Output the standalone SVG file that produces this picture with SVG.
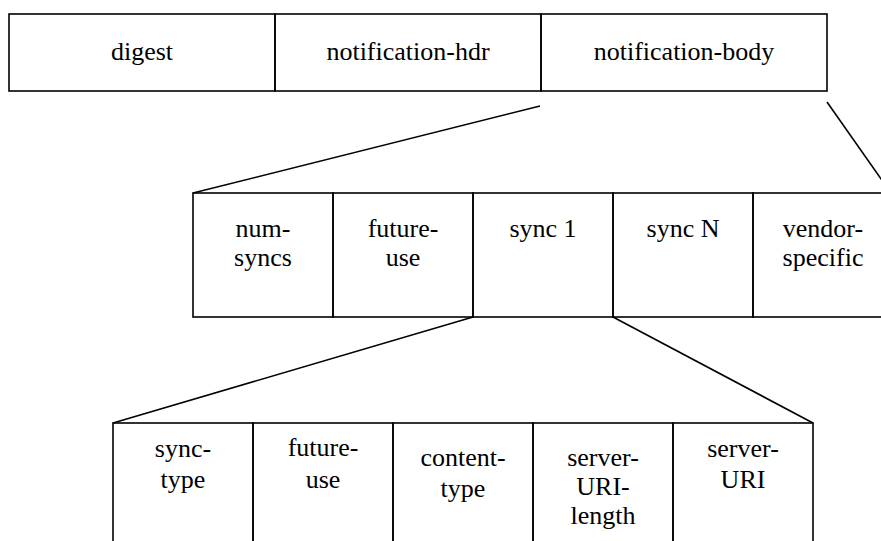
<svg xmlns="http://www.w3.org/2000/svg" width="881" height="541" viewBox="0 0 881 541">
<style>
.b{fill:none;stroke:#000;stroke-width:1.6}
.c{fill:none;stroke:#000;stroke-width:1.6}
</style>
<rect width="881" height="541" fill="#fff"/>
<g font-family="Liberation Serif, Times New Roman, DejaVu Serif, serif" font-size="26" fill="#000" text-anchor="middle">
<g id="top">
<g id="digest"><rect class="b" x="9" y="14" width="266" height="77"/><text x="142" y="60">digest</text></g>
<g id="notification-hdr"><rect class="b" x="275" y="14" width="266" height="77"/><text x="408" y="60">notification-hdr</text></g>
<g id="notification-body"><rect class="b" x="541" y="14" width="286" height="77"/><text x="684" y="60">notification-body</text></g>
</g>
<g id="mid">
<g id="num-syncs"><rect class="b" x="193" y="193" width="140" height="124"/><text x="263" y="237">num-</text><text x="263" y="266">syncs</text></g>
<g id="future-use-1"><rect class="b" x="333" y="193" width="140" height="124"/><text x="403" y="237">future-</text><text x="403" y="266">use</text></g>
<g id="sync1"><rect class="b" x="473" y="193" width="140" height="124"/><text x="543" y="237">sync 1</text></g>
<g id="syncN"><rect class="b" x="613" y="193" width="140" height="124"/><text x="683" y="237">sync N</text></g>
<g id="vendor-specific"><rect class="b" x="753" y="193" width="140" height="124"/><text x="823" y="237">vendor-</text><text x="823" y="266">specific</text></g>
</g>
<g id="bottom">
<g id="sync-type"><rect class="b" x="113" y="423" width="140" height="140"/><text x="183" y="457">sync-</text><text x="183" y="488">type</text></g>
<g id="future-use-2"><rect class="b" x="253" y="423" width="140" height="140"/><text x="323" y="456">future-</text><text x="323" y="488">use</text></g>
<g id="content-type"><rect class="b" x="393" y="423" width="140" height="140"/><text x="463" y="466">content-</text><text x="463" y="497">type</text></g>
<g id="server-URI-length"><rect class="b" x="533" y="423" width="140" height="140"/><text x="603" y="466">server-</text><text x="603" y="495">URI-</text><text x="603" y="524">length</text></g>
<g id="server-URI"><rect class="b" x="673" y="423" width="140" height="140"/><text x="743" y="457">server-</text><text x="743" y="488">URI</text></g>
</g>
</g>
<g id="connectors">
<line class="c" x1="540" y1="106" x2="193" y2="193"/>
<line class="c" x1="827" y1="102" x2="891" y2="193"/>
<line class="c" x1="473" y1="317" x2="113" y2="423"/>
<line class="c" x1="613" y1="317" x2="813" y2="423"/>
</g>
</svg>
